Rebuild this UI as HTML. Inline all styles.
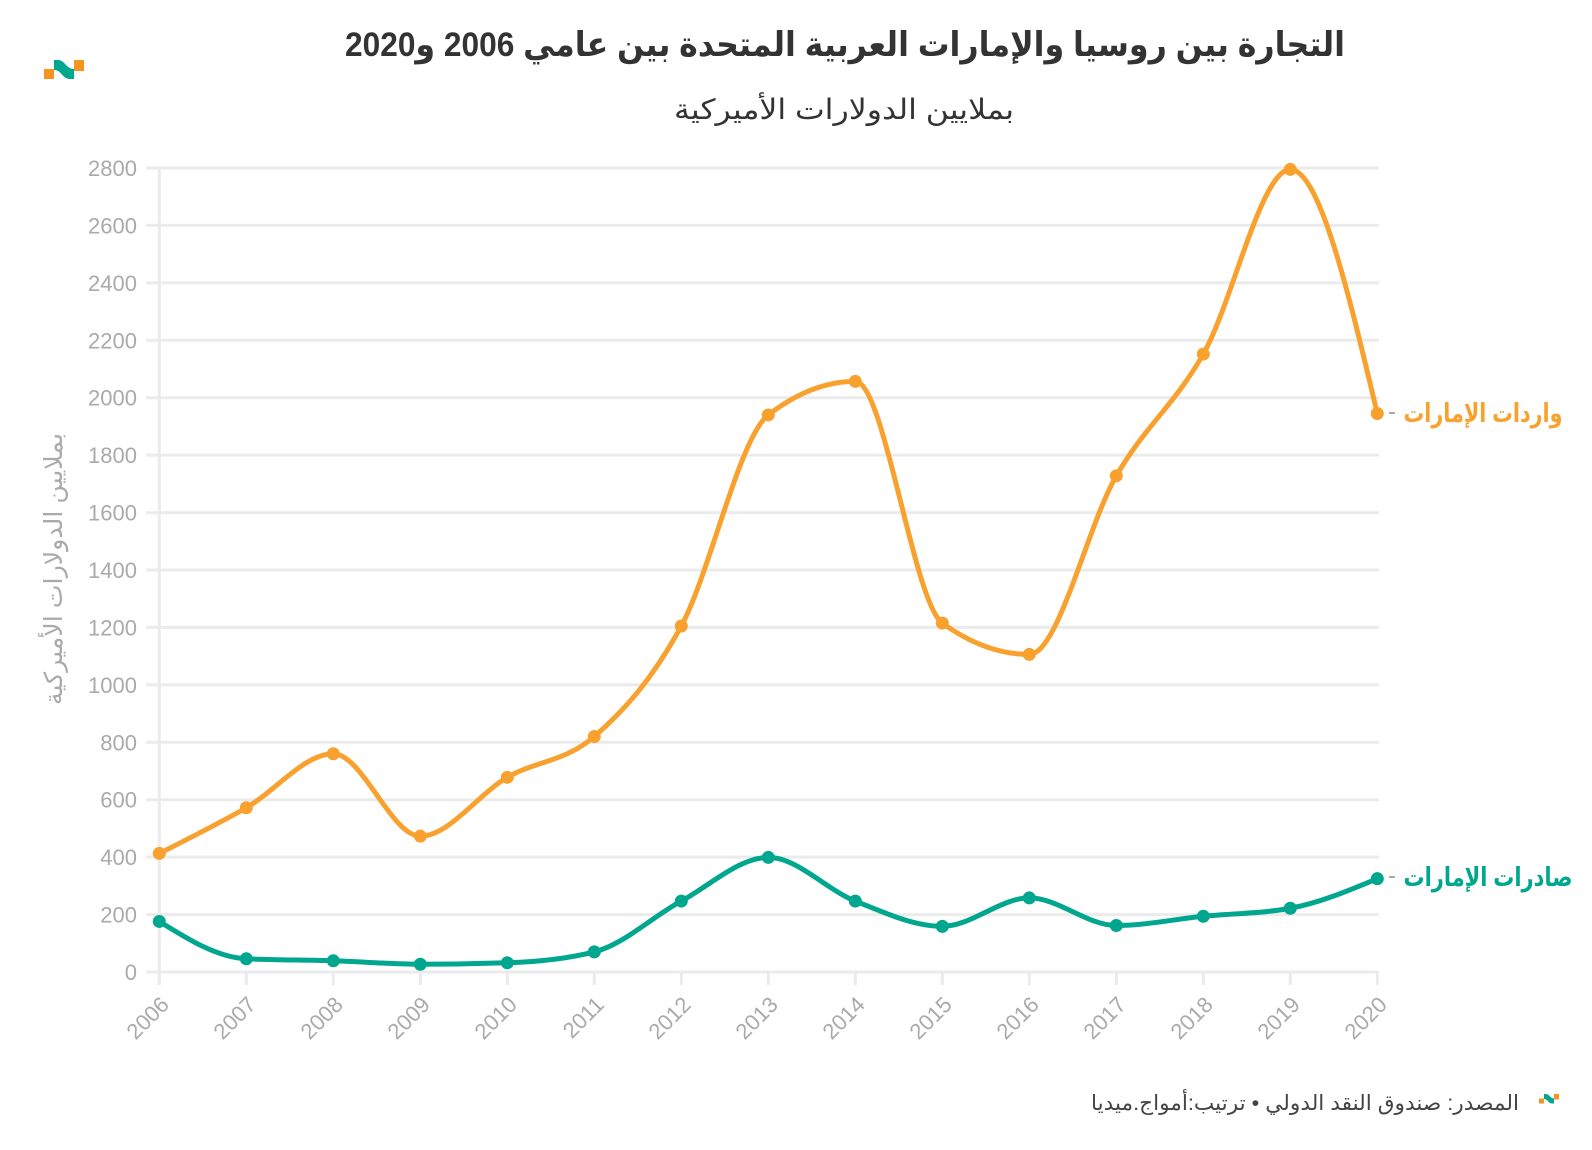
<!DOCTYPE html>
<html>
<head>
<meta charset="utf-8">
<style>
  html, body { margin: 0; padding: 0; background: #ffffff; }
  body { width: 1592px; height: 1150px; overflow: hidden; }
  svg { display: block; }
  .ar { font-family: "Liberation Sans", "DejaVu Sans", sans-serif; }
  .num { font-family: "Liberation Sans", sans-serif; }
</style>
</head>
<body>
<svg id="chart" width="1592" height="1150" viewBox="0 0 1592 1150" xmlns="http://www.w3.org/2000/svg">
  <rect x="0" y="0" width="1592" height="1150" fill="#ffffff"/>

  <!-- logo -->
  <g id="logo">
    <rect x="44" y="69" width="10" height="10" fill="#f7941d"/>
    <rect x="74" y="60" width="10" height="11" fill="#f7941d"/>
    <path d="M54,60 L58,60 C65,60 66,69 74,69 L74,79 L70,79 C62,79 62,70 54,70 Z" fill="#00a68e"/>
  </g>

  <!-- title -->
  <text class="ar" x="845" y="56" text-anchor="middle" font-size="34" font-weight="bold" fill="#333333" style="direction:rtl" textLength="1000" lengthAdjust="spacingAndGlyphs">التجارة بين روسيا والإمارات العربية المتحدة بين عامي 2006 و2020</text>
  <!-- subtitle -->
  <text class="ar" x="844" y="119" text-anchor="middle" font-size="28" fill="#333333" style="direction:rtl" textLength="340" lengthAdjust="spacingAndGlyphs">بملايين الدولارات الأميركية</text>

  <!-- y-axis title -->
  <text class="ar" transform="translate(62,569) rotate(-90)" x="0" y="0" text-anchor="middle" font-size="25" fill="#aaaaaa" style="direction:rtl" textLength="272" lengthAdjust="spacingAndGlyphs">بملايين الدولارات الأميركية</text>

  <g id="grid"></g>
  <g id="series"></g>

  <!-- right labels -->
  <line x1="1389" y1="413" x2="1395" y2="413" stroke="#aaaaaa" stroke-width="2"/>
  <text class="ar" x="1483" y="422" text-anchor="middle" font-size="26" font-weight="bold" fill="#f9a12f" style="direction:rtl" textLength="159" lengthAdjust="spacingAndGlyphs">واردات الإمارات</text>
  <line x1="1389" y1="877" x2="1395" y2="877" stroke="#aaaaaa" stroke-width="2"/>
  <text class="ar" x="1488" y="886" text-anchor="middle" font-size="26" font-weight="bold" fill="#00a68e" style="direction:rtl" textLength="169" lengthAdjust="spacingAndGlyphs">صادرات الإمارات</text>

  <!-- footer -->
  <text class="ar" x="1305" y="1110" text-anchor="middle" font-size="21" fill="#444444" style="direction:rtl" textLength="428" lengthAdjust="spacingAndGlyphs">المصدر: صندوق النقد الدولي • ترتيب:أمواج.ميديا</text>
  <g transform="translate(1517,1064) scale(0.5)">
    <rect x="44" y="69" width="10" height="10" fill="#f7941d"/>
    <rect x="74" y="60" width="10" height="11" fill="#f7941d"/>
    <path d="M54,60 L58,60 C65,60 66,69 74,69 L74,79 L70,79 C62,79 62,70 54,70 Z" fill="#00a68e"/>
  </g>
</svg>
<script>
(function(){
  var NS = "http://www.w3.org/2000/svg";
  var grid = document.getElementById("grid");
  var series = document.getElementById("series");
  function el(tag, attrs, parent, text){
    var e = document.createElementNS(NS, tag);
    for (var k in attrs) e.setAttribute(k, attrs[k]);
    if (text !== undefined) e.textContent = text;
    parent.appendChild(e);
    return e;
  }
  var X0 = 159.3, DX = 87.0, Y0 = 972, K = 0.287143;
  function xs(i){ return X0 + i*DX; }
  function ys(v){ return Y0 - v*K; }
  var gc = "#ebebeb";
  for (var v = 0; v <= 2800; v += 200){
    var y = ys(v);
    el("line", {x1:146, y1:y, x2:1379, y2:y, stroke:gc, "stroke-width":3}, grid);
    el("text", {x:137, y:y+8, "text-anchor":"end", "font-size":22, fill:"#aaaaaa", "class":"num"}, grid, String(v));
  }
  el("line", {x1:X0, y1:ys(2800)-1.5, x2:X0, y2:985, stroke:gc, "stroke-width":3}, grid);
  for (var i = 0; i < 15; i++){
    var x = xs(i);
    el("line", {x1:x, y1:Y0, x2:x, y2:985, stroke:gc, "stroke-width":3}, grid);
    var px = x + 11, py = 1006;
    el("text", {x:px, y:py, "text-anchor":"end", "font-size":22, fill:"#aaaaaa", "class":"num",
      transform:"rotate(-45 " + px + " " + py + ")"}, grid, String(2006 + i));
  }
  function sign(a){ return a < 0 ? -1 : 1; }
  function monotonePath(pts){
    var n = pts.length, m = new Array(n), s = [];
    for (var i = 0; i < n-1; i++) s.push((pts[i+1][1]-pts[i][1])/(pts[i+1][0]-pts[i][0]));
    for (var i = 1; i < n-1; i++){
      var h0 = pts[i][0]-pts[i-1][0], h1 = pts[i+1][0]-pts[i][0];
      var s0 = s[i-1], s1 = s[i];
      var p = (s0*h1 + s1*h0)/(h0+h1);
      m[i] = (sign(s0)+sign(s1)) * Math.min(Math.abs(s0), Math.abs(s1), 0.5*Math.abs(p)) || 0;
    }
    m[0] = (3*s[0] - m[1])/2;
    m[n-1] = (3*s[n-2] - m[n-2])/2;
    var d = "M" + pts[0][0].toFixed(2) + "," + pts[0][1].toFixed(2);
    for (var i = 0; i < n-1; i++){
      var dx = (pts[i+1][0]-pts[i][0])/3;
      d += " C" + (pts[i][0]+dx).toFixed(2) + "," + (pts[i][1]+dx*m[i]).toFixed(2) + " " +
           (pts[i+1][0]-dx).toFixed(2) + "," + (pts[i+1][1]-dx*m[i+1]).toFixed(2) + " " +
           pts[i+1][0].toFixed(2) + "," + pts[i+1][1].toFixed(2);
    }
    return d;
  }
  var imports = [413, 572, 760, 473, 678, 820, 1205, 1940, 2057, 1215, 1106, 1728, 2152, 2795, 1945];
  var exports_ = [176, 46, 39, 27, 32, 70, 247, 399, 247, 159, 258, 162, 194, 222, 325];
  function draw(vals, color){
    var pts = vals.map(function(v, i){ return [xs(i), ys(v)]; });
    el("path", {d:monotonePath(pts), fill:"none", stroke:color, "stroke-width":5, "stroke-linejoin":"round", "stroke-linecap":"round"}, series);
    pts.forEach(function(p){ el("circle", {cx:p[0], cy:p[1], r:6.5, fill:color}, series); });
  }
  draw(exports_, "#00a68e");
  draw(imports, "#f9a12f");
})();
</script>
</body>
</html>
